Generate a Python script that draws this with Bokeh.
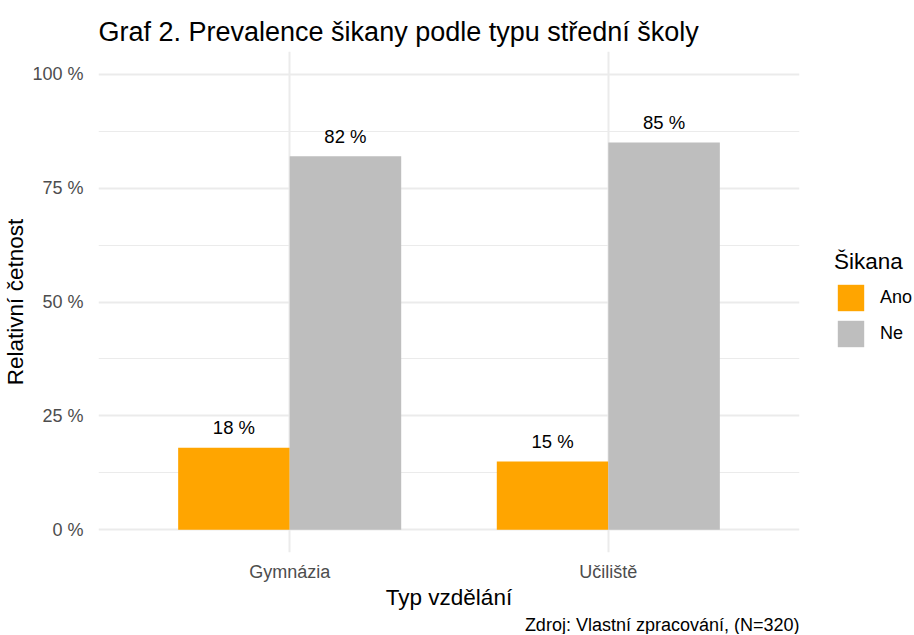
from bokeh.plotting import figure
from bokeh.models import (FixedTicker, Range1d, Legend, LegendItem, Title)
from bokeh.core.properties import value
from bokeh.embed import file_html
from bokeh.resources import INLINE

# ---- data ----
categories = ["Gymnázia", "Učiliště"]
ano = [18, 15]
ne = [82, 85]
series_names = ["Ano", "Ne"]
y_ticks = [0, 25, 50, 75, 100]
y_tick_labels = ["0 %", "25 %", "50 %", "75 %", "100 %"]

FONT = "Liberation Sans"
ORANGE = "#FFA500"
GREY = "#BEBEBE"

x_pos = [i + 1 for i in range(len(categories))]
dodge = 0.175
bar_w = 0.35
x_ano = [x - dodge for x in x_pos]
x_ne = [x + dodge for x in x_pos]

p = figure(
    output_backend="svg", toolbar_location=None,
    frame_width=701, frame_height=501,
    min_border_left=98, min_border_right=112, min_border_top=51, min_border_bottom=82,
    x_range=Range1d(0.4, 2.6), y_range=Range1d(-5, 105),
)
p.outline_line_color = None
p.background_fill_color = "white"
p.border_fill_color = "white"

p.title.text = "Graf 2. Prevalence šikany podle typu střední školy"
p.title.text_font = FONT
p.title.text_font_size = "27px"
p.title.text_font_style = "normal"
p.title.text_color = "black"
p.title.align = "left"
p.title.standoff = 10

# grid
p.xgrid.ticker = FixedTicker(ticks=x_pos, minor_ticks=[])
p.ygrid.ticker = FixedTicker(ticks=y_ticks, minor_ticks=[12.5, 37.5, 62.5, 87.5])
for g in (p.xgrid, p.ygrid):
    g.grid_line_color = "#EBEBEB"
    g.grid_line_width = 2
p.ygrid.minor_grid_line_color = "#EBEBEB"
p.ygrid.minor_grid_line_width = 1

# axes
p.xaxis.ticker = FixedTicker(ticks=x_pos)
p.xaxis.major_label_overrides = {x: c for x, c in zip(x_pos, categories)}
p.yaxis.ticker = FixedTicker(ticks=y_ticks)
p.yaxis.major_label_overrides = {t: l for t, l in zip(y_ticks, y_tick_labels)}
for ax in (p.xaxis, p.yaxis):
    ax.axis_line_color = None
    ax.major_tick_line_color = None
    ax.minor_tick_line_color = None
    ax.major_label_text_font = FONT
    ax.major_label_text_font_size = "18px"
    ax.major_label_text_color = "#4D4D4D"
    ax.axis_label_text_font = FONT
    ax.axis_label_text_font_size = "22.5px"
    ax.axis_label_text_font_style = "normal"
    ax.axis_label_text_color = "black"
p.xaxis.axis_label = "Typ vzdělání"
p.yaxis.axis_label = "Relativní četnost"
p.xaxis.major_label_standoff = 3
p.xaxis.axis_label_standoff = 0
p.yaxis.major_label_standoff = 9
p.yaxis.axis_label_standoff = 1

# bars
r_ano = p.vbar(x=x_ano, top=ano, bottom=0, width=bar_w, fill_color=ORANGE, line_color=None)
r_ne = p.vbar(x=x_ne, top=ne, bottom=0, width=bar_w, fill_color=GREY, line_color=None)

# value labels
p.text(x=x_ano + x_ne, y=[v + 4.4 for v in ano + ne],
       text=[f"{v} %" for v in ano + ne],
       text_align="center", text_baseline="alphabetic",
       text_font=value(FONT), text_font_size="18.5px", text_color="black")

# legend in the right-hand panel
legend = Legend(items=[LegendItem(label=series_names[0], renderers=[r_ano]),
                       LegendItem(label=series_names[1], renderers=[r_ne])],
                title="Šikana", location=(35, 202))
legend.title_text_font = FONT
legend.title_text_font_size = "22.5px"
legend.title_text_font_style = "normal"
legend.title_text_color = "black"
legend.title_standoff = 6
legend.label_text_font = FONT
legend.label_text_font_size = "18px"
legend.label_text_color = "black"
legend.glyph_width = 33
legend.glyph_height = 33
legend.label_height = 33
legend.label_standoff = 13
legend.spacing = 3
legend.padding = 0
legend.margin = 0
legend.border_line_color = None
legend.background_fill_alpha = 0
p.add_layout(legend, "right")

# caption
cap = Title(text="Zdroj: Vlastní zpracování, (N=320)", align="right",
            text_font=FONT, text_font_size="18px", text_font_style="normal",
            text_color="black", standoff=0)
p.add_layout(cap, "below")

open("out.html", "w").write(file_html(p, INLINE))
